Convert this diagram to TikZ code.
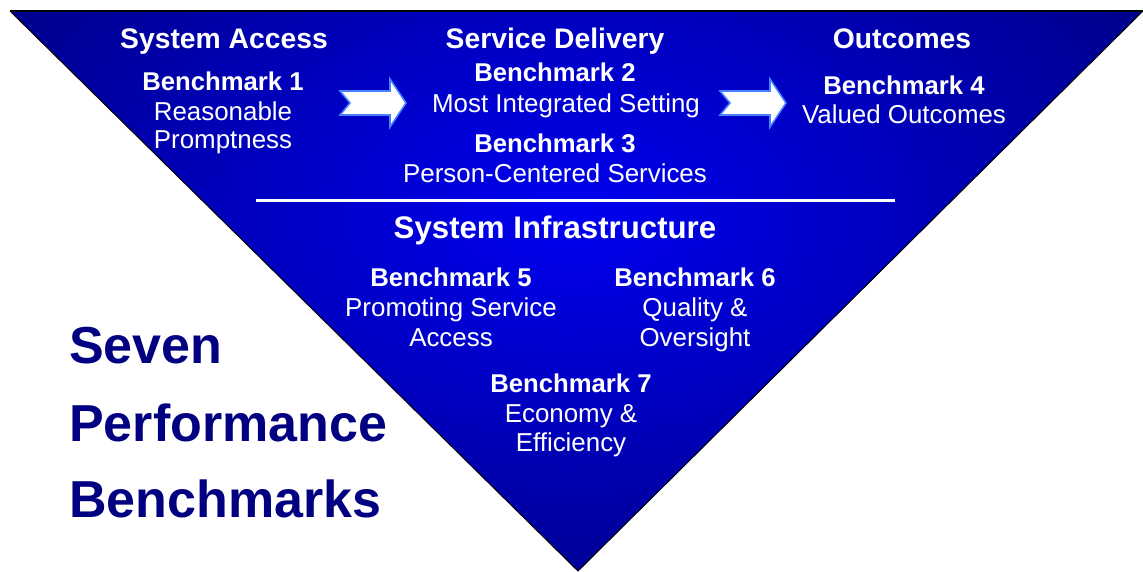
\documentclass[tikz,border=0pt]{standalone}
\usepackage{fontspec}
\setmainfont{Liberation Sans}
\definecolor{navyedge}{RGB}{0,0,125}
\definecolor{brightblue}{RGB}{0,0,240}
\definecolor{titlenavy}{RGB}{0,0,128}
\definecolor{arrowrim}{RGB}{70,130,255}
\tikzset{
  head/.style={text=white,font=\fontsize{28.3}{31}\selectfont\bfseries,inner sep=0pt,anchor=base},
  bighead/.style={text=white,font=\fontsize{31.2}{34}\selectfont\bfseries,inner sep=0pt,anchor=base},
  bm/.style={text=white,font=\fontsize{25.7}{29}\selectfont\bfseries,inner sep=0pt,anchor=base},
  body/.style={text=white,font=\fontsize{25.9}{29}\selectfont,inner sep=0pt,anchor=base},
  big/.style={text=titlenavy,font=\fontsize{52}{60}\selectfont\bfseries,inner sep=0pt,anchor=base west},
  flowarrow/.style={fill=white,draw=arrowrim,line width=1.6pt,line join=miter}
}
\begin{document}
\begin{tikzpicture}[x=1pt,y=-1pt]
\useasboundingbox (0,0) rectangle (1143,571);
% triangle with radial shading
\coordinate (tl) at (10,11);
\coordinate (tr) at (1143,11);
\coordinate (ap) at (578,571);
\begin{scope}
  \clip (tl) -- (tr) -- (ap) -- cycle;
  \shade[inner color=brightblue,outer color=navyedge] (570,215) ellipse (760 and 460);
\end{scope}
\draw[black,line width=1pt,line join=miter] (tl) -- (ap) -- (tr);
\draw[black,line width=1.6pt] (tl) -- (tr);
% white divider
\coordinate (dl) at (256,200);
\coordinate (dr) at (895,200);
\draw[white,line width=3pt] (dl) -- (dr);
% flow arrows
\foreach \dx/\nm in {0/a1,380/a2}{
  \draw[flowarrow,xshift=\dx pt] (340,91) -- (390,91) -- (390,79) -- (406,103) -- (390,127) -- (390,115) -- (340,115) -- (350,103) -- cycle;
}
% column 1
\node[head] (sa) at (224,48) {System Access};
\node[bm] (b1) at (223,90) {Benchmark 1};
\node[body] (b1a) at (223,120) {Reasonable};
\node[body] (b1b) at (223,148) {Promptness};
% column 2
\node[head] (sd) at (555,48) {Service Delivery};
\node[bm] (b2) at (555,81) {Benchmark 2};
\node[body] (b2a) at (566,112) {Most Integrated Setting};
\node[bm] (b3) at (555,152) {Benchmark 3};
\node[body] (b3a) at (555,182) {Person-Centered Services};
% column 3
\node[head] (oc) at (902,48) {Outcomes};
\node[bm] (b4) at (904,94) {Benchmark 4};
\node[body] (b4a) at (904,123) {Valued Outcomes};
% infrastructure
\node[bighead] (si) at (555,238) {System Infrastructure};
\node[bm] (b5) at (451,286) {Benchmark 5};
\node[body] (b5a) at (451,316) {Promoting Service};
\node[body] (b5b) at (451,346) {Access};
\node[bm] (b6) at (695,286) {Benchmark 6};
\node[body] (b6a) at (695,316) {Quality \&};
\node[body] (b6b) at (695,346) {Oversight};
\node[bm] (b7) at (571,392) {Benchmark 7};
\node[body] (b7a) at (571,422) {Economy \&};
\node[body] (b7b) at (571,451) {Efficiency};
% big title
\node[big] (t1) at (69,363) {Seven};
\node[big] (t2) at (69,441) {Performance};
\node[big] (t3) at (69,517) {Benchmarks};
\end{tikzpicture}
\end{document}
